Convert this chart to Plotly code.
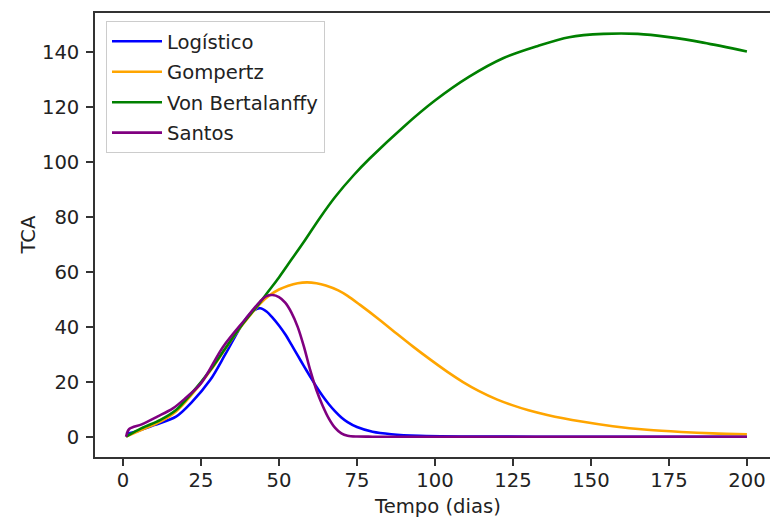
import plotly.graph_objects as go

# ---- data ----
logistico_days = [1, 5, 10, 17, 22, 28, 33, 39, 42, 44, 46, 48, 50, 52, 54, 56, 58, 60, 62, 64, 66, 68, 70, 72, 75, 80, 86, 95, 110, 140, 200]
logistico_vals = [1.0, 2.2, 4.2, 7.3, 12.5, 20.7, 30.4, 42.3, 46.0, 46.8, 45.6, 43.3, 40.5, 37.3, 33.5, 29.6, 25.7, 21.9, 18.2, 14.8, 11.8, 9.2, 7.0, 5.3, 3.5, 1.8, 0.9, 0.3, 0.05, 0.0, 0.0]

gompertz_days = [1, 6, 12, 17, 22, 28, 33, 38, 44, 47, 50, 53, 56, 59, 62, 65, 69, 72, 76, 82, 88, 93, 98, 104, 109, 114, 120, 125, 130, 136, 147, 157, 168, 179, 189, 200]
gompertz_vals = [0.0, 2.5, 5.5, 9.2, 15.3, 24.0, 32.3, 40.3, 48.5, 51.5, 53.6, 55.0, 55.9, 56.2, 55.9, 55.1, 53.3, 51.3, 48.0, 42.8, 37.3, 32.8, 28.5, 23.6, 19.9, 16.7, 13.5, 11.4, 9.6, 7.9, 5.5, 3.8, 2.5, 1.7, 1.2, 0.9]

bertalanffy_days = [1, 6, 12, 17, 22, 28, 33, 38, 44, 47, 50, 54, 58, 63, 68, 74, 79, 90, 100, 111, 122, 133, 143, 154, 165, 175, 186, 200]
bertalanffy_vals = [0.0, 3.1, 6.1, 9.7, 15.8, 24.3, 32.5, 40.5, 49.0, 53.5, 58.0, 64.5, 71.0, 79.5, 87.3, 95.3, 101.2, 112.9, 122.4, 131.1, 137.9, 142.3, 145.5, 146.7, 146.7, 145.5, 143.5, 140.3]

santos_days = [1, 2, 6, 11, 16, 20, 25, 32, 39, 44, 46, 48, 50, 52, 54, 56, 58, 60, 62, 64, 66, 68, 70, 72, 75, 80, 200]
santos_vals = [0.0, 2.8, 4.5, 7.3, 10.3, 14.0, 19.4, 32.6, 42.5, 49.3, 51.2, 51.6, 50.8, 48.8, 45.2, 40.0, 32.8, 24.3, 17.0, 11.3, 6.6, 3.2, 1.2, 0.35, 0.05, 0.0, 0.0]

series_names = ["Logístico", "Gompertz", "Von Bertalanffy", "Santos"]
series_colors = ["#0000ff", "#ffa500", "#008000", "#800080"]

x_ticks = [0, 25, 50, 75, 100, 125, 150, 175, 200]
y_ticks = [0, 20, 40, 60, 80, 100, 120, 140]

FONT = "DejaVu Sans"
FS = 19.6
TXT = "#222222"

fig = go.Figure()
all_x = [logistico_days, gompertz_days, bertalanffy_days, santos_days]
all_y = [logistico_vals, gompertz_vals, bertalanffy_vals, santos_vals]
for i, (xs, ys) in enumerate(zip(all_x, all_y)):
    fig.add_trace(go.Scatter(
        x=xs, y=ys, mode="lines", name=series_names[i],
        legendgroup=f"g{i}",
        line=dict(color=series_colors[i], width=2.6, shape="spline", smoothing=0.9),
    ))

fig.update_layout(
    width=770, height=519,
    margin=dict(l=95, r=0, t=13, b=62, autoexpand=False),
    paper_bgcolor="white", plot_bgcolor="white",
    font=dict(family=FONT, size=FS, color=TXT),
    showlegend=True,
    legend=dict(
        x=0.0163, y=0.982, xanchor="left", yanchor="top",
        bgcolor="rgba(255,255,255,0.8)", bordercolor="#cccccc", borderwidth=1,
        font=dict(family=FONT, size=FS, color=TXT),
        tracegroupgap=2, itemwidth=50,
    ),
    xaxis=dict(
        range=[-8.97, 207.4], tickmode="array", tickvals=x_ticks,
        ticktext=[str(v) for v in x_ticks],
        showgrid=False, zeroline=False,
        showline=True, linecolor="#333333", linewidth=1.5, mirror=True,
        ticks="outside", ticklen=7, tickwidth=1.5, tickcolor="#333333",
        ticklabelstandoff=-2, automargin=False,
    ),
    yaxis=dict(
        range=[-7.4, 154.3], tickmode="array", tickvals=y_ticks,
        ticktext=[str(v) for v in y_ticks],
        showgrid=False, zeroline=False,
        showline=True, linecolor="#333333", linewidth=1.5, mirror=False,
        ticks="outside", ticklen=7, tickwidth=1.5, tickcolor="#333333",
        ticklabelstandoff=3, automargin=False,
    ),
    annotations=[
        dict(text="Tempo (dias)", xref="paper", yref="paper",
             x=0.5067, y=-0.1126, xanchor="center", yanchor="middle",
             showarrow=False, font=dict(family=FONT, size=FS, color=TXT)),
        dict(text="TCA", xref="paper", yref="paper", textangle=-90,
             x=-0.1, y=0.5, xanchor="center", yanchor="middle",
             showarrow=False, font=dict(family=FONT, size=FS, color=TXT)),
    ],
)

fig.write_html(
    "out.html",
    config={"displayModeBar": False},
    post_script="document.body.style.margin='0';document.body.style.overflow='hidden';",
)
